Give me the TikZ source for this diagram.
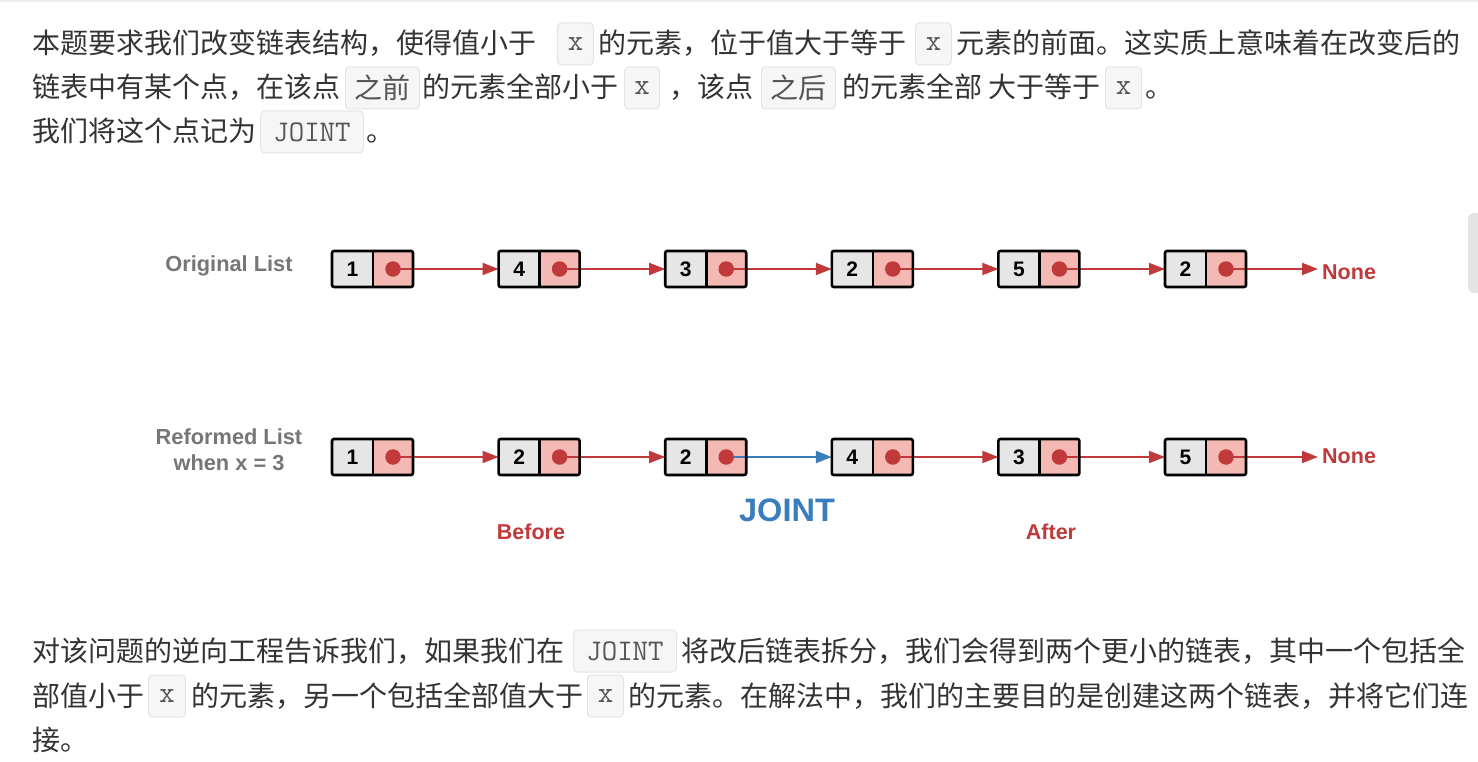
\documentclass[tikz,border=0pt]{standalone}
\usepackage{fontspec}
\setmainfont{Liberation Sans}
\newfontfamily\cjk{Noto Sans CJK SC}
\usetikzlibrary{arrows.meta}
\definecolor{bodytxt}{HTML}{333333}
\definecolor{codetxt}{HTML}{555555}
\definecolor{codebg}{HTML}{F6F6F6}
\definecolor{codeline}{HTML}{E4E4E4}
\definecolor{lblgrey}{HTML}{767676}
\definecolor{listred}{HTML}{C0393B}
\definecolor{cellgrey}{HTML}{E6E6E6}
\definecolor{cellpink}{HTML}{F4B9B2}
\definecolor{jointblue}{HTML}{3A7DBD}
\definecolor{bandgrey}{HTML}{EEEEEE}
\definecolor{scrollgrey}{HTML}{E3E3E3}
\tikzset{
  txt/.style={anchor=base west, inner sep=0pt, outer sep=0pt, text=bodytxt, font=\cjk\fontsize{28}{34}\selectfont},
  codebox/.style={anchor=west, rectangle, rounded corners=4pt, fill=codebg, draw=codeline, line width=1pt, minimum height=42pt, inner sep=0pt, text=codetxt, font=\ttfamily\fontsize{30}{32}\selectfont},
  cjkcode/.style={codebox, font=\cjk\fontsize{28}{30}\selectfont},
  valcell/.style={rectangle, minimum width=41pt, minimum height=36pt, inner sep=0pt, outer sep=0pt, fill=cellgrey, font=\bfseries\fontsize{21}{24}\selectfont},
  ptrcell/.style={rectangle, minimum width=40pt, minimum height=36pt, inner sep=0pt, outer sep=0pt, fill=cellpink},
  boxline/.style={line width=2.6pt, draw=black, rounded corners=2pt},
  divline/.style={line width=2.6pt, draw=black},
  dot/.style={circle, fill=listred, minimum size=15.5pt, inner sep=0pt},
  redarrow/.style={draw=listred, line width=1.9pt, -{Triangle[length=16pt,width=12pt]}},
  bluearrow/.style={draw=jointblue, line width=2.6pt, -{Triangle[length=16pt,width=12pt]}},
  lbl/.style={font=\bfseries\fontsize{21.8}{27}\selectfont, text=lblgrey, align=center, inner sep=0pt},
  redlbl/.style={font=\bfseries\fontsize{21.5}{26}\selectfont, text=listred, inner sep=0pt},
  bluelbl/.style={font=\bfseries\fontsize{32.5}{36}\selectfont, text=jointblue, inner sep=0pt}
}
\begin{document}
\begin{tikzpicture}[x=1pt,y=-1pt]
\useasboundingbox (0,0) rectangle (1478,762);
\fill[bandgrey] (0,0) rectangle (1478,2.5);
\fill[scrollgrey, rounded corners=6pt] (1468,213) rectangle (1492,293);

% ---- top paragraph ----
\node[txt] (t11) at (32,54) {本题要求我们改变链表结构，使得值小于};
\node[codebox, minimum width=36pt] (c11) at (557,44) {x};
\node[txt] (t12) at (598,54) {的元素，位于值大于等于};
\node[codebox, minimum width=36pt] (c12) at (915,44) {x};
\node[txt] (t13) at (956,54) {元素的前面。这实质上意味着在改变后的};

\node[txt] (t21) at (32,98) {链表中有某个点，在该点};
\node[cjkcode, minimum width=74pt] (c21) at (345,88) {之前};
\node[txt] (t22) at (422,98) {的元素全部小于};
\node[codebox, minimum width=35pt] (c22) at (624,88) {x};
\node[txt] (t23) at (669,98) {，该点};
\node[cjkcode, minimum width=74pt] (c23) at (761,88) {之后};
\node[txt] (t24) at (842,98) {的元素全部 大于等于};
\node[codebox, minimum width=36pt] (c24) at (1105,88) {x};
\node[txt] (t25) at (1145,98) {。};

\node[txt] (t31) at (32,142) {我们将这个点记为};
\node[codebox, minimum width=103pt] (c31) at (260,132) {JOINT};
\node[txt] (t32) at (366,142) {。};

% ---- original list ----
\node[lbl] (orig) at (229,266) {Original List};
\foreach \v [count=\i] in {1,4,3,2,5,2} {
  \node[valcell] (oa\i) at ({352.5+166.6*(\i-1)},269) {\v};
  \node[ptrcell, anchor=west] (op\i) at (oa\i.east) {};
}
\foreach \i/\j in {1/2,2/3,3/4,4/5,5/6}
  \draw[redarrow] (op\i.center) -- (oa\j.west);
\node[redlbl, anchor=west] (none1) at (1322,272) {None};
\coordinate (e1) at (1318,269);
\draw[redarrow] (op6.center) -- (e1);
\foreach \i in {1,...,6} {
  \draw[boxline] (oa\i.north west) rectangle (op\i.south east);
  \draw[divline] (oa\i.north east) -- (oa\i.south east);
  \node[dot] (od\i) at (op\i.center) {};
}

% ---- reformed list ----
\node[lbl] (reform) at (229,449.5) {Reformed List\\[-1pt]when x = 3};
\foreach \v [count=\i] in {1,2,2,4,3,5} {
  \node[valcell] (ra\i) at ({352.5+166.6*(\i-1)},457) {\v};
  \node[ptrcell, anchor=west] (rp\i) at (ra\i.east) {};
}
\foreach \i/\j in {1/2,2/3,4/5,5/6}
  \draw[redarrow] (rp\i.center) -- (ra\j.west);
\draw[bluearrow] (rp3.center) -- (ra4.west);
\node[redlbl, anchor=west] (none2) at (1322,456) {None};
\coordinate (e2) at (1318,457);
\draw[redarrow] (rp6.center) -- (e2);
\foreach \i in {1,...,6} {
  \draw[boxline] (ra\i.north west) rectangle (rp\i.south east);
  \draw[divline] (ra\i.north east) -- (ra\i.south east);
  \node[dot] (rd\i) at (rp\i.center) {};
}
\node[redlbl] (before) at (531,532) {Before};
\node[bluelbl] (joint) at (787,510) {JOINT};
\node[redlbl] (after) at (1051,532) {After};

% ---- bottom paragraph ----
\node[txt] (b11) at (32,661) {对该问题的逆向工程告诉我们，如果我们在};
\node[codebox, minimum width=103pt] (cb1) at (573,651) {JOINT};
\node[txt] (b12) at (681,661) {将改后链表拆分，我们会得到两个更小的链表，其中一个包括全};
\node[txt] (b21) at (32,706) {部值小于};
\node[codebox, minimum width=37pt] (cb2) at (148,696) {x};
\node[txt] (b22) at (191,706) {的元素，另一个包括全部值大于};
\node[codebox, minimum width=36pt] (cb3) at (587,696) {x};
\node[txt] (b23) at (628,706) {的元素。在解法中，我们的主要目的是创建这两个链表，并将它们连};
\node[txt] (b31) at (32,750) {接。};
\end{tikzpicture}
\end{document}
